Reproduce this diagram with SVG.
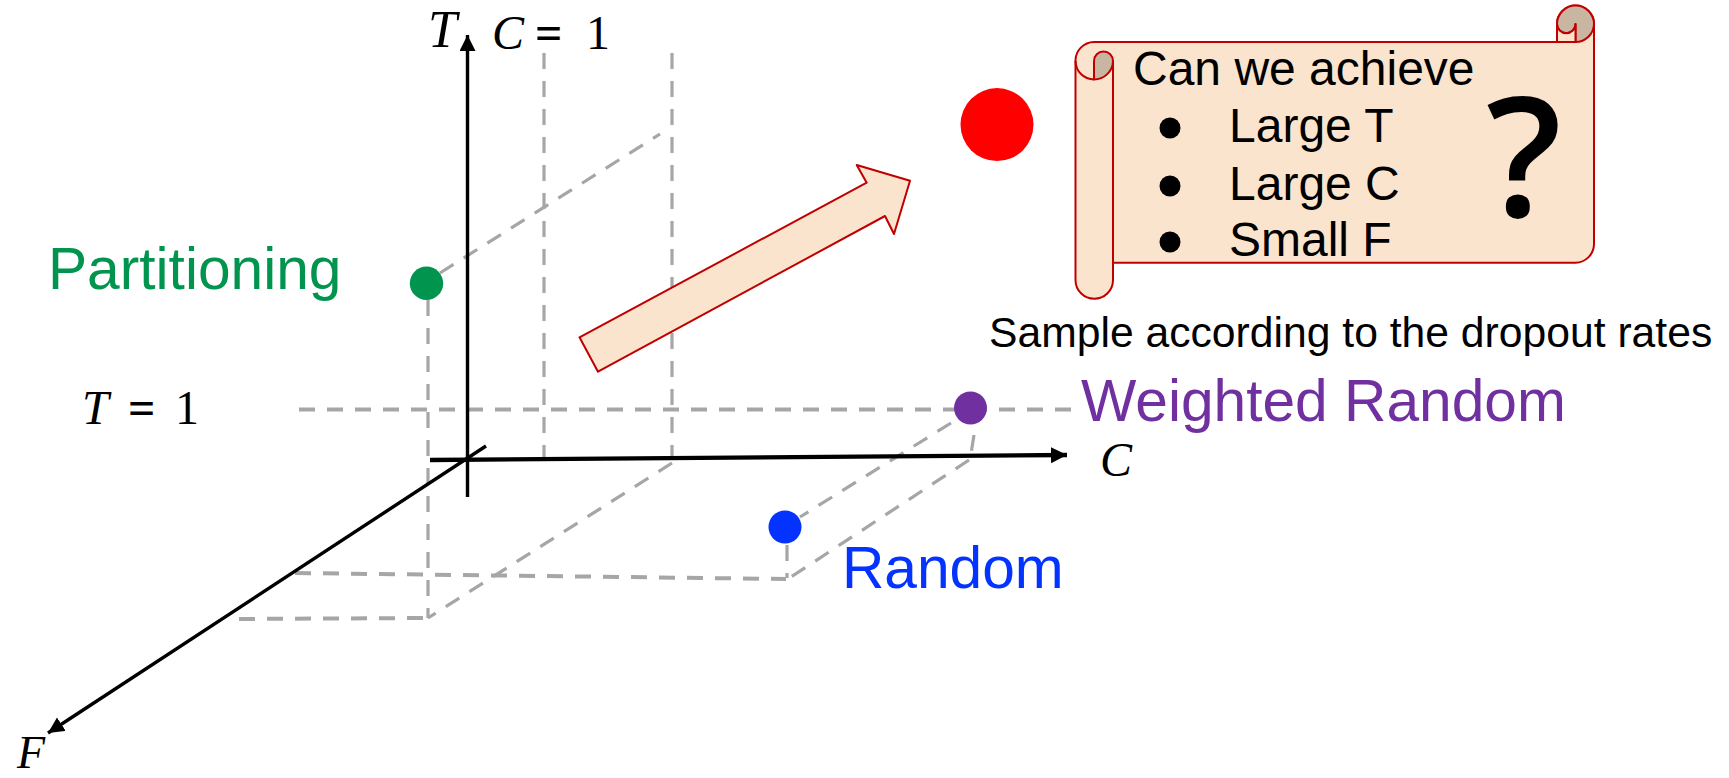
<svg xmlns="http://www.w3.org/2000/svg" width="1729" height="778" viewBox="0 0 1729 778">
<defs>
<style>
.sans{font-family:"Liberation Sans",Arial,sans-serif}
.math{font-family:"Liberation Serif","Times New Roman",serif;fill:#000}
.it{font-style:italic}
.eq{font-weight:bold}
.d{fill:none;stroke:#a6a6a6;stroke-width:3.2;stroke-dasharray:16 12}
.h{stroke-width:4}
.ax{fill:none;stroke:#000}
.sc{fill:#fbe4cd;stroke:#c00000;stroke-width:2;stroke-linejoin:round}
.fold{fill:#c9b6a2;stroke:#c00000;stroke-width:2;stroke-linejoin:round}
</style>
<marker id="ah" markerUnits="userSpaceOnUse" markerWidth="18" markerHeight="18" refX="16" refY="8" orient="auto"><path d="M0 0L16 8L0 16z" fill="#000"/></marker>
</defs>
<rect width="1729" height="778" fill="#fff"/>
<g id="connectors">
<path class="d h" d="M299 409.5H1072"/>
<path class="d" d="M428 300V618"/>
<path class="d" d="M544 53V460"/>
<path class="d" d="M672 53V459"/>
<path class="d" d="M440 273L660 134"/>
<path class="d" d="M672 463L428 618"/>
<path class="d" d="M951 423L800 517"/>
<path class="d" d="M974 435L970 460"/>
<path class="d" d="M969 460L791 577"/>
<path class="d" d="M787 545V578"/>
<path class="d h" d="M295 573L786 579"/>
<path class="d h" d="M239 619L428 618"/>
<path class="ax" stroke-width="3.4" marker-end="url(#ah)" d="M467.5 497V35"/>
<path class="ax" stroke-width="4.4" marker-end="url(#ah)" d="M430 460L1067 455"/>
<path class="ax" stroke-width="3.4" marker-end="url(#ah)" d="M486 446L48 733"/>
<path id="big-arrow" class="sc" d="M579.5 337.3L598 371.7L885 216L894 234L910 180.7L856.7 165L866.7 182.7z"/>
</g>
<g id="axis-labels">
<text class="math it" x="428" y="47" font-size="52">T</text>
<text class="math" y="49" font-size="48"><tspan class="it" x="492">C</tspan> <tspan class="eq" x="535">=</tspan> <tspan x="586">1</tspan></text>
<text class="math" y="424" font-size="48"><tspan class="it" x="82">T</tspan> <tspan class="eq" x="128">=</tspan> <tspan x="175">1</tspan></text>
<text class="math it" x="1100" y="476" font-size="48">C</text>
<text class="math it" x="17" y="768" font-size="46">F</text>
</g>
<g id="partitioning"><circle cx="426.5" cy="283.3" r="16.7" fill="#00944f"/><text class="sans" x="48" y="289" font-size="58.67" fill="#00944f">Partitioning</text></g>
<g id="random"><circle cx="785" cy="527" r="16.5" fill="#0433ff"/><text class="sans" x="842" y="588" font-size="58.67" fill="#0433ff">Random</text></g>
<g id="weighted-random"><circle cx="970.5" cy="408" r="16.5" fill="#7030a0"/><text class="sans" x="1081" y="421" font-size="58.67" fill="#7030a0">Weighted Random</text></g>
<g id="target"><circle cx="997" cy="124.6" r="36.5" fill="#ff0000"/></g>
<g id="scroll">
<path class="sc" d="M1075.5 61A18.7 18.7 0 0 1 1094 42H1557V24A18.5 18.5 0 0 1 1594 24V244A18.7 18.7 0 0 1 1575.5 262.7H1113V280A18.7 18.7 0 0 1 1075.5 280z"/>
<path class="fold" d="M1557 24A18.5 18.5 0 0 1 1594 24A18.5 18.5 0 0 1 1575.5 42V24A9 9 0 0 1 1557 24z"/>
<path class="sc" d="M1557 42V24A9 9 0 0 0 1575.5 24V42z"/>
<path class="fold" d="M1094 79.5V61A9.5 9.5 0 0 1 1113 61A19 19 0 0 1 1094 79.5z"/>
<path class="sc" style="fill:none" d="M1075.5 61A18.7 18.7 0 0 0 1094 79.5M1113 61V263"/>
<text class="sans" x="1133" y="85" font-size="48">Can we achieve</text>
<circle cx="1170" cy="128" r="10.5"/><text class="sans" x="1229" y="142" font-size="48">Large T</text>
<circle cx="1170" cy="186" r="10.5"/><text class="sans" x="1229" y="199.5" font-size="48">Large C</text>
<circle cx="1170" cy="242" r="10.5"/><text class="sans" x="1229" y="255.5" font-size="48">Small F</text>
<text x="1486" y="217" font-size="167" font-weight="600" style="font-family:'Open Sans',sans-serif">?</text>
</g>
<text id="sample" class="sans" x="989" y="347" font-size="42.67">Sample according to the dropout rates</text>
</svg>
